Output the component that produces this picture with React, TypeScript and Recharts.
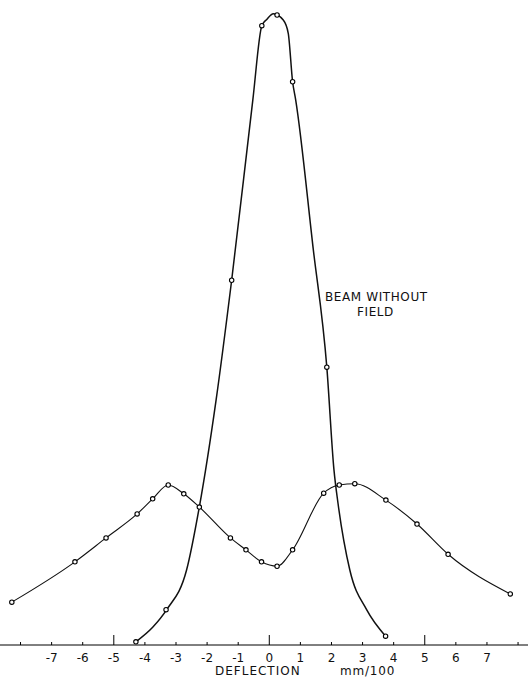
import { ComposedChart, Line, XAxis, YAxis } from 'recharts'

// deflection in mm/100, intensity in arbitrary units (peak of the field-free beam = 100)

// measured points, beam without field
const fieldFreeX = [-4.29, -3.32, -1.21, -0.24, 0.25, 0.75, 1.85, 3.74]
const fieldFreeY = [0.5, 5.6, 57.9, 98.3, 100, 89.4, 44.1, 1.4]

const fieldFreeCurveX = [-4.29, -3.75, -3.3, -2.66, -2.25, -1.71, -1.21, -0.53, -0.24, -0.08, 0.13, 0.45, 0.61, 0.75, 0.85, 1.41, 1.85, 2.08, 2.21, 2.59, 3.13, 3.74]
const fieldFreeCurveY = [0.5, 2.8, 5.6, 11.9, 21.9, 38.9, 57.9, 86.5, 98.3, 99.3, 100.2, 99.2, 97.1, 89.4, 86.5, 63.0, 44.1, 27.8, 22.5, 11.9, 5.6, 1.4]

// measured points, beam with field
const withFieldX = [-8.28, -6.25, -5.25, -4.25, -3.75, -3.25, -2.75, -2.25, -1.25, -0.75, -0.25, 0.25, 0.75, 1.75, 2.25, 2.75, 3.75, 4.75, 5.75, 7.75]
const withFieldY = [6.8, 13.2, 17.0, 20.8, 23.2, 25.4, 24.0, 21.9, 17.0, 15.1, 13.2, 12.5, 15.1, 24.1, 25.4, 25.6, 23.0, 19.2, 14.4, 8.1]

const ticks = [-8, -7, -6, -5, -4, -3, -2, -1, 0, 1, 2, 3, 4, 5, 6, 7, 8]
const longTicks = [-5, 0, 5]

const zip = (xs: number[], ys: number[]) => xs.map((x, i) => ({ x, y: ys[i] }))
const fieldFree = zip(fieldFreeX, fieldFreeY)
const fieldFreeCurve = zip(fieldFreeCurveX, fieldFreeCurveY)
const withField = zip(withFieldX, withFieldY)

const font = '"DejaVu Sans", sans-serif'

function Tick({ x, y, payload }: any) {
  const v = payload.value
  const len = longTicks.includes(v) ? 10 : 3
  return (
    <g>
      <line x1={x} x2={x} y1={y} y2={y - len} stroke="#000" strokeWidth={1} />
      {Math.abs(v) < 8 && (
        <text x={x} y={y + 17} textAnchor="middle" fontSize={12} fontFamily={font} fill="#111">
          {v < 0 ? '-' + Math.abs(v) : v}
        </text>
      )}
    </g>
  )
}

function Dot({ cx, cy, index }: any) {
  if (cx == null || cy == null) return <g key={index} />
  return <circle key={index} cx={cx} cy={cy} r={2.2} fill="#fff" stroke="#000" strokeWidth={1.1} />
}

export default function App() {
  return (
    <div style={{ position: 'absolute', left: 0, top: 0, width: 528, height: 681, background: '#fff' }}>
      <ComposedChart width={528} height={681} margin={{ top: 0, right: 0, left: 0, bottom: 0 }}>
        <XAxis
          type="number"
          dataKey="x"
          domain={[-8.66, 8.32]}
          ticks={ticks}
          tickLine={false}
          tickSize={0}
          tickMargin={0}
          tick={<Tick />}
          height={36}
          interval={0}
          stroke="#000"
          allowDuplicatedCategory={false}
        />
        <YAxis type="number" domain={[0, 102.38]} hide />
        <Line data={withField} dataKey="y" type="monotone" stroke="#111" strokeWidth={1.1} dot={<Dot />} activeDot={false} isAnimationActive={false} />
        <Line data={fieldFreeCurve} dataKey="y" type="monotone" stroke="#111" strokeWidth={1.5} dot={false} activeDot={false} isAnimationActive={false} />
        <Line data={fieldFree} dataKey="y" stroke="none" dot={<Dot />} activeDot={false} isAnimationActive={false} />
      </ComposedChart>
      <div style={{ position: 'absolute', left: 325, top: 290, fontFamily: font, fontSize: 12, letterSpacing: 0.6, lineHeight: '15px', color: '#111', whiteSpace: 'pre' }}>
        BEAM WITHOUT
      </div>
      <div style={{ position: 'absolute', left: 357, top: 305, fontFamily: font, fontSize: 12, letterSpacing: 0.6, lineHeight: '15px', color: '#111', whiteSpace: 'pre' }}>
        FIELD
      </div>
      <div style={{ position: 'absolute', left: 215, top: 664, fontFamily: font, fontSize: 12, letterSpacing: 1, color: '#111', whiteSpace: 'pre' }}>
        DEFLECTION
      </div>
      <div style={{ position: 'absolute', left: 340, top: 664, fontFamily: font, fontSize: 12, letterSpacing: 0.8, color: '#111', whiteSpace: 'pre' }}>
        mm/100
      </div>
    </div>
  )
}
